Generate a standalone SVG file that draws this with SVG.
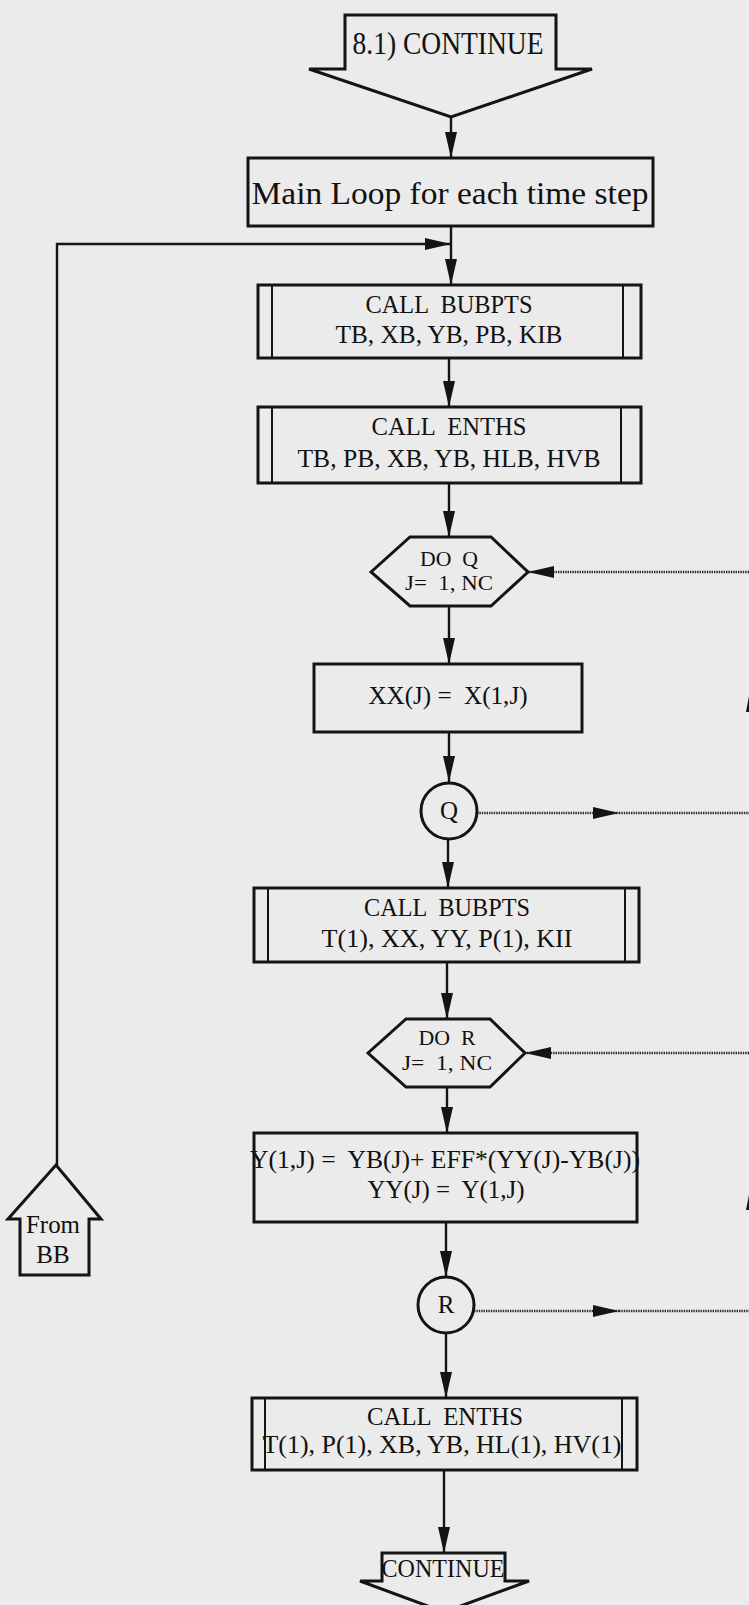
<svg xmlns="http://www.w3.org/2000/svg" width="749" height="1605" viewBox="0 0 749 1605">
<style>
.bg{fill:#ebebeb}
.shape{fill:none;stroke:#141414;stroke-width:3;stroke-linejoin:miter}
.inner{stroke:#141414;stroke-width:2}
.edge{fill:none;stroke:#141414;stroke-width:2.4}
.dot{fill:none;stroke:#2a2a2a;stroke-width:2.4;stroke-dasharray:1.4 1}
text{font-family:"Liberation Serif","Times New Roman",serif;fill:#111;text-anchor:middle}
.t25{font-size:25px}
.t22{font-size:22px}
.t26{font-size:26px}
.t32{font-size:32px}
</style>
<defs>
<marker id="ah" viewBox="0 0 26 12" refX="26" refY="6" markerWidth="26" markerHeight="12" markerUnits="userSpaceOnUse" orient="auto">
<path d="M0,0 L26,6 L0,12 z" fill="#141414"/>
</marker>
</defs>
<rect class="bg" x="0" y="0" width="749" height="1605"/>

<g id="connectors">
<path class="edge" d="M451,117 L451,158" marker-end="url(#ah)"/>
<path class="edge" d="M451,226 L451,285" marker-end="url(#ah)"/>
<path class="edge" d="M57,1165 L57,244 L451,244" marker-end="url(#ah)"/>
<path class="edge" d="M449,358 L449,407" marker-end="url(#ah)"/>
<path class="edge" d="M449,483 L449,537" marker-end="url(#ah)"/>
<path class="edge" d="M449,606 L449,664" marker-end="url(#ah)"/>
<path class="edge" d="M449,732 L449,782" marker-end="url(#ah)"/>
<path class="edge" d="M448,840 L448,888" marker-end="url(#ah)"/>
<path class="edge" d="M447,962 L447,1019" marker-end="url(#ah)"/>
<path class="edge" d="M447,1087 L447,1133" marker-end="url(#ah)"/>
<path class="edge" d="M446,1222 L446,1277" marker-end="url(#ah)"/>
<path class="edge" d="M446,1333 L446,1398" marker-end="url(#ah)"/>
<path class="edge" d="M444,1470 L444,1553" marker-end="url(#ah)"/>
<path class="dot" d="M749,572 L528,572" marker-end="url(#ah)"/>
<path class="dot" d="M477,813 L619,813" marker-end="url(#ah)"/>
<path class="dot" d="M619,813 L749,813"/>
<path class="dot" d="M749,1053 L525,1053" marker-end="url(#ah)"/>
<path class="dot" d="M474,1311 L619,1311" marker-end="url(#ah)"/>
<path class="dot" d="M619,1311 L749,1311"/>
<polygon points="746,712 749,696 749,712" fill="#141414"/>
<polygon points="746,1210 749,1195 749,1210" fill="#141414"/>
</g>

<g id="start">
<polygon class="shape" points="345,15 556,15 556,69 592,69 451,117 309,69 345,69"/>
<text x="448" y="54" style="font-size:31px" textLength="191" lengthAdjust="spacingAndGlyphs">8.1) CONTINUE</text>
</g>

<g id="mainloop">
<rect class="shape" x="248" y="158" width="405" height="68"/>
<text class="t32" x="450" y="204" textLength="397" lengthAdjust="spacingAndGlyphs">Main Loop for each time step</text>
</g>

<g id="bubpts1">
<rect class="shape" x="258" y="285" width="383" height="73"/>
<line class="inner" x1="272" y1="285" x2="272" y2="358"/>
<line class="inner" x1="623" y1="285" x2="623" y2="358"/>
<text class="t25" x="449" y="313" xml:space="preserve" textLength="167" lengthAdjust="spacingAndGlyphs">CALL  BUBPTS</text>
<text class="t25" x="449" y="343" textLength="227" lengthAdjust="spacingAndGlyphs">TB, XB, YB, PB, KIB</text>
</g>

<g id="enths1">
<rect class="shape" x="258" y="407" width="383" height="76"/>
<line class="inner" x1="272" y1="407" x2="272" y2="483"/>
<line class="inner" x1="621" y1="407" x2="621" y2="483"/>
<text class="t25" x="449" y="435" xml:space="preserve" textLength="155" lengthAdjust="spacingAndGlyphs">CALL  ENTHS</text>
<text class="t25" x="449" y="467" textLength="303" lengthAdjust="spacingAndGlyphs">TB, PB, XB, YB, HLB, HVB</text>
</g>

<g id="doq">
<polygon class="shape" points="371,572 410,537 491,537 528,572 491,606 410,606"/>
<text class="t22" x="449" y="566" xml:space="preserve" textLength="58" lengthAdjust="spacingAndGlyphs">DO  Q</text>
<text class="t22" x="449" y="590" xml:space="preserve" textLength="88" lengthAdjust="spacingAndGlyphs">J=  1, NC</text>
</g>

<g id="xx">
<rect class="shape" x="314" y="664" width="268" height="68"/>
<text class="t26" x="448" y="704" xml:space="preserve" textLength="159" lengthAdjust="spacingAndGlyphs">XX(J) =  X(1,J)</text>
</g>

<g id="q">
<circle class="shape" cx="449" cy="811" r="28"/>
<text class="t25" x="449" y="819">Q</text>
</g>

<g id="bubpts2">
<rect class="shape" x="254" y="888" width="385" height="74"/>
<line class="inner" x1="268" y1="888" x2="268" y2="962"/>
<line class="inner" x1="625" y1="888" x2="625" y2="962"/>
<text class="t25" x="447" y="916" xml:space="preserve" textLength="166" lengthAdjust="spacingAndGlyphs">CALL  BUBPTS</text>
<text class="t25" x="447" y="947" textLength="251" lengthAdjust="spacingAndGlyphs">T(1), XX, YY, P(1), KII</text>
</g>

<g id="dor">
<polygon class="shape" points="368,1053 406,1019 490,1019 525,1053 490,1087 406,1087"/>
<text class="t22" x="447" y="1045" xml:space="preserve" textLength="57" lengthAdjust="spacingAndGlyphs">DO  R</text>
<text class="t22" x="447" y="1070" xml:space="preserve" textLength="90" lengthAdjust="spacingAndGlyphs">J=  1, NC</text>
</g>

<g id="ycalc">
<rect class="shape" x="254" y="1133" width="383" height="89"/>
<text class="t26" x="445" y="1168" xml:space="preserve" textLength="390" lengthAdjust="spacingAndGlyphs">Y(1,J) =  YB(J)+ EFF*(YY(J)-YB(J))</text>
<text class="t26" x="446" y="1198" xml:space="preserve" textLength="157" lengthAdjust="spacingAndGlyphs">YY(J) =  Y(1,J)</text>
</g>

<g id="r">
<circle class="shape" cx="446" cy="1305" r="28"/>
<text class="t25" x="446" y="1313">R</text>
</g>

<g id="enths2">
<rect class="shape" x="252" y="1398" width="385" height="72"/>
<line class="inner" x1="265" y1="1398" x2="265" y2="1470"/>
<line class="inner" x1="622" y1="1398" x2="622" y2="1470"/>
<text class="t25" x="445" y="1425" xml:space="preserve" textLength="156" lengthAdjust="spacingAndGlyphs">CALL  ENTHS</text>
<text class="t25" x="442" y="1453" textLength="359" lengthAdjust="spacingAndGlyphs">T(1), P(1), XB, YB, HL(1), HV(1)</text>
</g>

<g id="end">
<polygon class="shape" points="382,1553 505,1553 505,1581 529,1581 444,1612 360,1581 382,1581"/>
<text x="443" y="1577" style="font-size:26px" textLength="123" lengthAdjust="spacingAndGlyphs">CONTINUE</text>
</g>

<g id="frombb">
<polygon class="shape" points="56,1165 101,1219 89,1219 89,1275 20,1275 20,1219 8,1219"/>
<text class="t25" x="53" y="1233" textLength="54" lengthAdjust="spacingAndGlyphs">From</text>
<text class="t25" x="53" y="1263">BB</text>
</g>
</svg>
